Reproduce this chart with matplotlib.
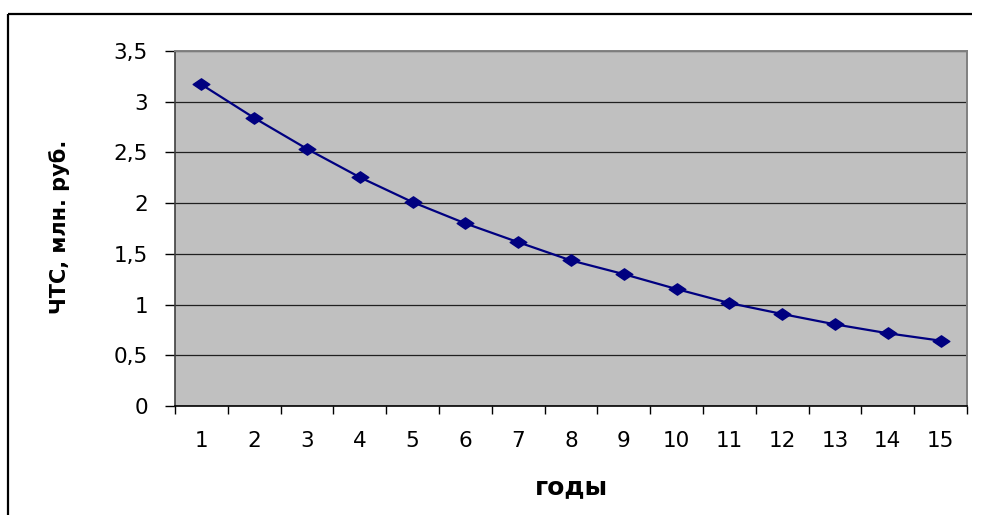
import matplotlib
matplotlib.use("Agg")
import matplotlib.pyplot as plt
from matplotlib.lines import Line2D
from matplotlib.path import Path
from matplotlib.ticker import FixedLocator, NullFormatter, FixedFormatter

years = list(range(1, 16))
year_labels = [str(y) for y in years]
npv = [3.17, 2.84, 2.535, 2.255, 2.01, 1.80, 1.615, 1.435, 1.30, 1.153,
       1.015, 0.907, 0.805, 0.717, 0.644]
y_ticks = [0, 0.5, 1, 1.5, 2, 2.5, 3, 3.5]
y_tick_labels = ["0", "0,5", "1", "1,5", "2", "2,5", "3", "3,5"]

plt.rcParams['font.family'] = ['DejaVu Sans']

W, H = 981, 515
fig = plt.figure(figsize=(W / 100, H / 100), dpi=100)
fig.patch.set_facecolor('white')

# outer frame (top and left)
fig.add_artist(Line2D([8 / W, 972 / W], [1 - 14 / H, 1 - 14 / H], color='black', lw=1.6,
                      solid_capstyle='butt', transform=fig.transFigure))
fig.add_artist(Line2D([8 / W, 8 / W], [0, 1 - 14 / H], color='black', lw=1.6,
                      solid_capstyle='butt', transform=fig.transFigure))

left, right, bottom, top = 175 / W, 967 / W, 1 - 406 / H, 1 - 51 / H
ax = fig.add_axes([left, bottom, right - left, top - bottom])
ax.set_facecolor('#C0C0C0')

diamond = Path([(-1, 0), (0, 0.68), (1, 0), (0, -0.68), (-1, 0)],
               [Path.MOVETO, Path.LINETO, Path.LINETO, Path.LINETO, Path.CLOSEPOLY])
ax.plot(years, npv, color='#000080', lw=1.6, marker=diamond, markersize=12,
        markerfacecolor='#000080', markeredgecolor='#000080', zorder=3)

ax.set_xlim(0.5, 15.5)
ax.set_ylim(0, 3.5)

ax.yaxis.set_major_locator(FixedLocator(y_ticks))
ax.yaxis.set_major_formatter(FixedFormatter(y_tick_labels))
ax.grid(axis='y', color='#202020', lw=0.9)
ax.set_axisbelow(True)

ax.xaxis.set_major_locator(FixedLocator([i + 0.5 for i in range(0, 16)]))
ax.xaxis.set_major_formatter(NullFormatter())
ax.xaxis.set_minor_locator(FixedLocator(years))
ax.xaxis.set_minor_formatter(FixedFormatter(year_labels))

ax.tick_params(axis='x', which='major', direction='out', length=6, width=1, color='black')
ax.tick_params(axis='x', which='minor', length=0, pad=18, labelsize=15.5)
ax.tick_params(axis='y', which='major', direction='out', length=7.5, width=1,
               color='black', pad=12, labelsize=15.5)

for s in ['top', 'right']:
    ax.spines[s].set_color('#808080')
    ax.spines[s].set_linewidth(1.4)
ax.spines['left'].set_color('#404040')
ax.spines['left'].set_linewidth(1.2)
ax.spines['bottom'].set_color('black')
ax.spines['bottom'].set_linewidth(1.2)

ax.set_xlabel('годы', fontsize=18, fontweight='bold')
ax.xaxis.set_label_coords(0.5, -0.195)
ax.set_ylabel('ЧТС, млн. руб.', fontsize=15, fontweight='bold')
ax.yaxis.set_label_coords(-0.133, 0.505)

fig.savefig('out.png', dpi=100)
